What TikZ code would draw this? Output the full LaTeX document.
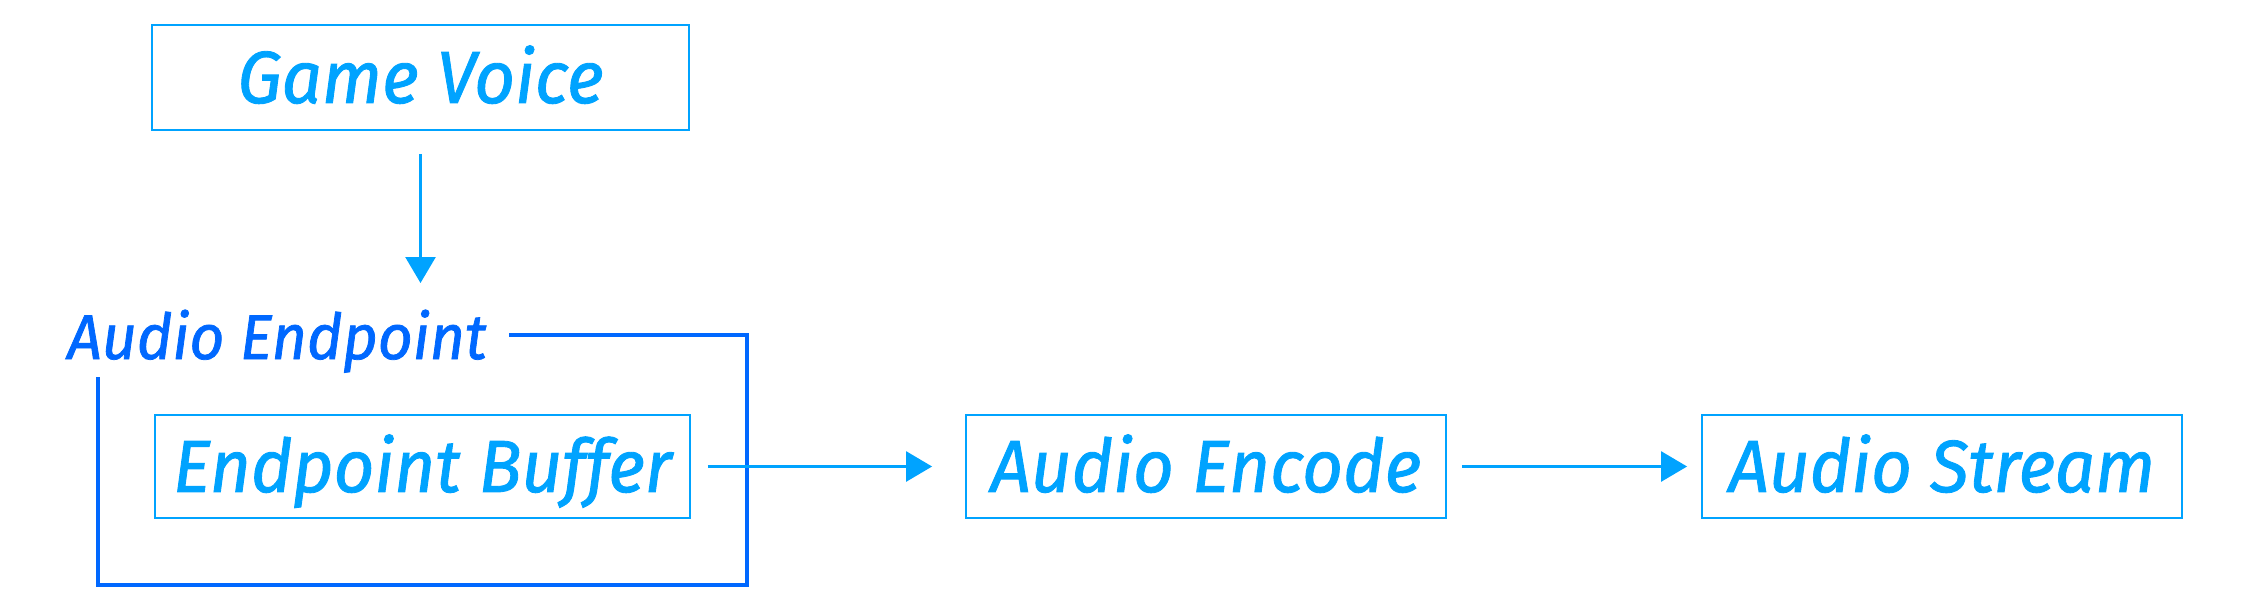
\documentclass[tikz,border=0pt]{standalone}
\usepackage{fontspec}
\newfontfamily\diafont{Fira Sans}[FakeStretch=0.96, FakeBold=1.2]
\usetikzlibrary{arrows.meta}
\definecolor{lblue}{HTML}{00A3FF}
\definecolor{dblue}{HTML}{0068FF}
\begin{document}
\begin{tikzpicture}[x=0.02cm,y=-0.02cm,
  box/.style={draw=lblue, line width=1.1pt, text=lblue, minimum height=2.06cm, inner sep=0pt,
    font=\diafont\itshape\fontsize{42}{42}\selectfont, text height=29pt, text depth=0pt},
  arr/.style={draw=lblue, line width=1.5pt, -{Triangle[length=0.52cm,width=0.6cm]}},
  cont/.style={draw=dblue, line width=1.9pt},
  lbl/.style={text=dblue, inner sep=0pt, font=\diafont\itshape\fontsize{36}{36}\selectfont}]
\useasboundingbox (0,0) rectangle (2250,605);
\node[box, minimum width=10.74cm, minimum height=2.1cm] (gv) at (420.5,77.5) {Game Voice};
\node[box, minimum width=10.7cm] (eb) at (422.5,466.5) {Endpoint Buffer};
\node[box, minimum width=9.6cm] (enc) at (1206,466.5) {Audio Encode};
\node[box, minimum width=9.6cm] (as) at (1942,466.5) {Audio Stream};
\node[lbl, anchor=base] (ae) at (277,359) {Audio Endpoint};
\coordinate (vt) at (420.5,283);
\coordinate (c0) at (509,335);
\coordinate (c1) at (747,585);
\coordinate (c2) at (98,377);
\draw[cont] (c0) -| (c1) -| (c2);
\draw[arr] ([yshift=-0.46cm]gv.south) -- (vt);
\draw[arr, shorten <=0.34cm, shorten >=0.66cm] (eb.east) -- (enc.west);
\draw[arr, shorten <=0.3cm, shorten >=0.28cm] (enc.east) -- (as.west);
\end{tikzpicture}
\end{document}
